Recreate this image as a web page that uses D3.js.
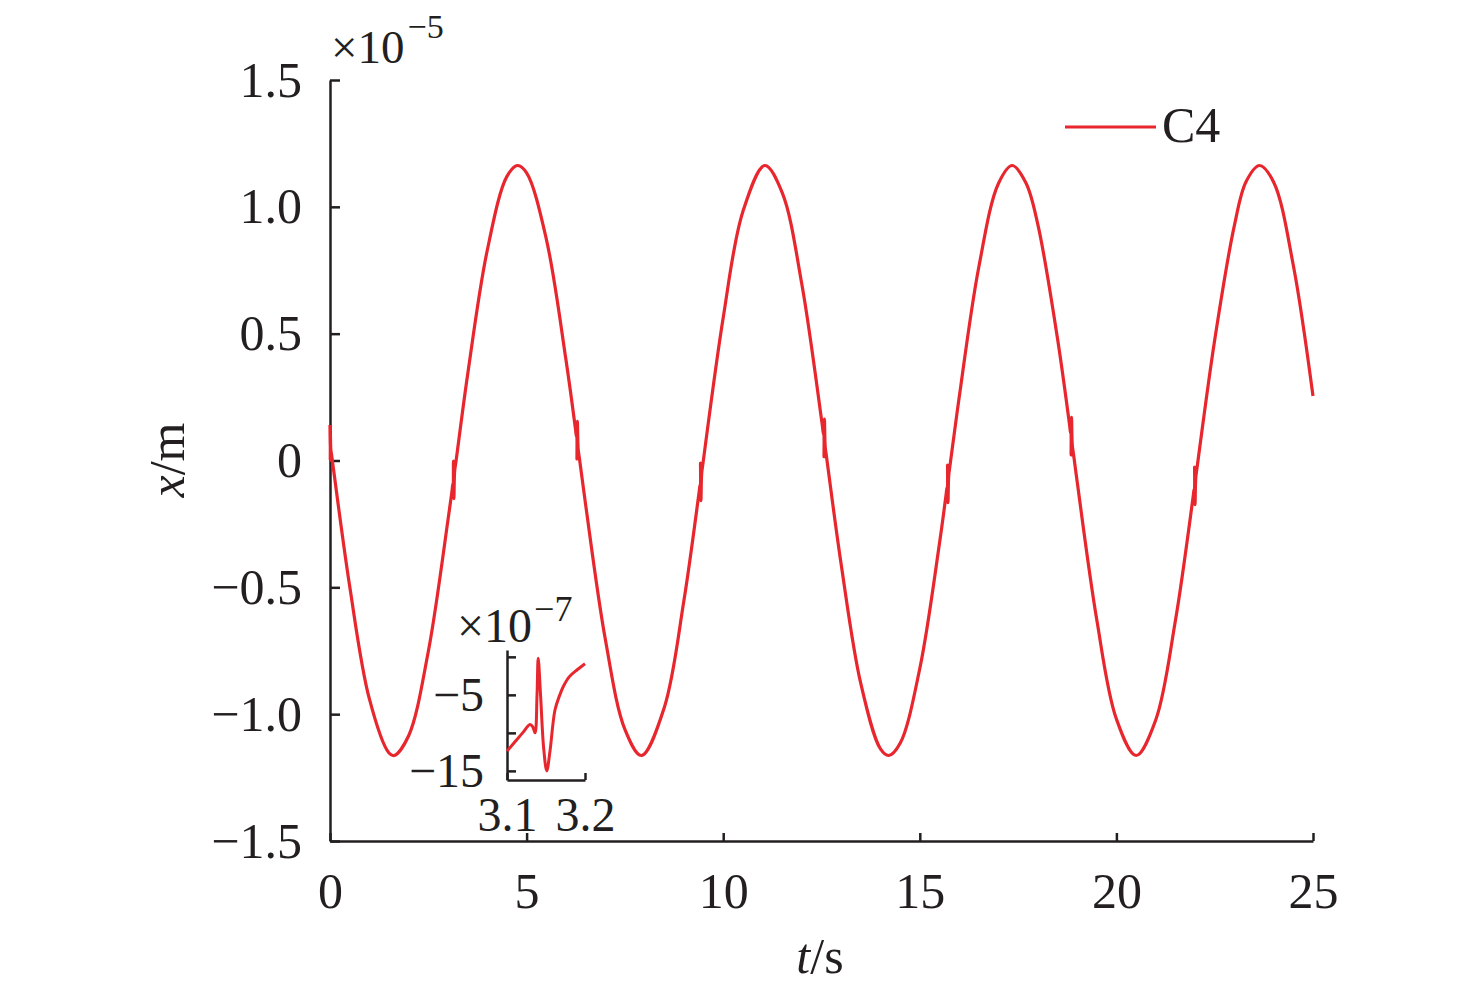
<!DOCTYPE html>
<html><head><meta charset="utf-8">
<script src="https://cdn.jsdelivr.net/npm/d3@7/dist/d3.min.js"></script>
<style>body{margin:0;background:#fff}svg{display:block}text{font-family:"Liberation Serif","Times New Roman",serif;fill:#231f20}</style>
</head><body><svg id="c" width="1476" height="992"></svg>
<script>
// ---- data (x in units of 1e-5 m) ----
const timeS = [0,0.006,0.012,0.02,0.04,0.5,1.0,1.5,1.63,2.0,2.5,3.0,
  3.10,3.128,3.135,3.140,3.151,3.162,3.172,3.20,3.5,4.0,4.5,4.77,5.0,5.5,6.0,
  6.241,6.269,6.276,6.281,6.292,6.303,6.313,6.341,6.5,7.0,7.5,7.92,8.5,9.0,
  9.384,9.412,9.419,9.423,9.434,9.445,9.455,9.484,10.0,10.5,11.06,11.5,12.0,12.5,
  12.524,12.552,12.559,12.564,12.575,12.586,12.596,12.624,13.0,13.5,14.0,14.21,14.5,15.0,15.5,
  15.666,15.694,15.701,15.706,15.717,15.728,15.738,15.766,16.0,16.5,17.0,17.35,17.7,18.0,18.5,
  18.808,18.836,18.843,18.848,18.859,18.870,18.880,18.908,19.0,19.5,20.0,20.5,21.0,21.5,
  21.949,21.977,21.984,21.989,22.000,22.011,22.021,22.049,22.5,23.0,23.3,23.64,24.0,24.5,25.0];
const dispC4 = [0.14,0.0,0.10,0.045,0.023,-0.495,-0.939,-1.153,-1.163,-1.085,-0.753,-0.235,
  -0.124,-0.089,-0.099,-0.002,-0.150,-0.070,-0.039,-0.009,0.338,0.829,1.120,1.163,1.134,0.874,0.398,
  0.127,0.094,0.096,0.006,0.154,0.075,0.043,0.011,-0.173,-0.703,-1.060,-1.163,-0.975,-0.553,
  -0.129,-0.097,-0.099,-0.010,-0.158,-0.078,-0.047,-0.013,0.563,0.981,1.163,1.056,0.695,0.162,
  0.135,0.1025,0.104,0.015,0.163,0.083,0.051,0.019,-0.409,-0.880,-1.137,-1.163,-1.115,-0.820,-0.327,
  -0.138,-0.106,-0.108,-0.018,-0.166,-0.087,-0.055,-0.022,0.247,0.762,1.092,1.163,1.094,0.932,0.483,
  0.142,0.109,0.111,0.022,0.170,0.090,0.058,0.026,-0.081,-0.627,-1.019,-1.163,-1.023,-0.632,
  -0.146,-0.114,-0.116,-0.026,-0.174,-0.095,-0.063,-0.031,0.475,0.926,1.100,1.163,1.097,0.769,0.254];
// inset (x in units of 1e-7 m)
const insetT = [3.100,3.110,3.120,3.1295,3.133,3.136,3.1385,3.140,3.143,3.147,3.151,3.155,3.1615,3.167,3.1722,3.180,3.190,3.200];
const insetX = [-12.4,-11.2,-10.0,-8.9,-9.2,-10.0,-5.0,-0.2,-5.0,-12.0,-15.0,-12.5,-7.0,-5.2,-3.9,-2.6,-1.7,-0.9];
const xTicks = [0,5,10,15,20,25];
const xTickLabels = ["0","5","10","15","20","25"];
const yTicks = [-1.5,-1.0,-0.5,0,0.5,1.0,1.5];
const yTickLabels = ["\u22121.5","\u22121.0","\u22120.5","0","0.5","1.0","1.5"];
const insetXTicks = [3.1,3.2];
const insetXTickLabels = ["3.1","3.2"];
const insetYTicks = [0,-5,-10,-15];
const insetYTickLabels = ["","\u22125","","\u221215"];
const seriesName = "C4";

const RED = "#e8262d", INK = "#231f20";
const svg = d3.select("#c");
const x = d3.scaleLinear().domain([0,25]).range([330,1313]);
const y = d3.scaleLinear().domain([-1.5,1.5]).range([841,80]);

function styleAxis(g, fs){
  g.select(".domain").attr("stroke",INK).attr("stroke-width",2.5);
  g.selectAll(".tick line").attr("stroke",INK).attr("stroke-width",2.5);
  g.selectAll(".tick text").attr("font-size",fs).attr("fill",INK)
   .style("font-family",'"Liberation Serif","Times New Roman",serif');
}
const gx = svg.append("g").attr("transform","translate(0,841)")
  .call(d3.axisBottom(x).tickValues(xTicks).tickFormat((d,i)=>xTickLabels[i]).tickSizeInner(-8).tickSizeOuter(0).tickPadding(31));
styleAxis(gx,50);
const gy = svg.append("g").attr("transform","translate(330,0)")
  .call(d3.axisLeft(y).tickValues(yTicks).tickFormat((d,i)=>yTickLabels[i]).tickSizeInner(-10).tickSizeOuter(0).tickPadding(28));
styleAxis(gy,50);

// exponent label
const ex = svg.append("text").attr("x",331).attr("y",63).attr("font-size",47);
ex.append("tspan").text("\u00d710");
ex.append("tspan").attr("dy",-25).attr("dx",3).attr("font-size",34).text("\u22125");

// axis titles
const yt = svg.append("text").attr("transform","translate(184,460) rotate(-90)").attr("text-anchor","middle").attr("font-size",50);
yt.append("tspan").attr("font-style","italic").text("x");
yt.append("tspan").text("/m");
const xt = svg.append("text").attr("x",820).attr("y",973).attr("text-anchor","middle").attr("font-size",50);
xt.append("tspan").attr("font-style","italic").text("t");
xt.append("tspan").text("/s");

// main curve
const pts = timeS.map((t,i)=>[t,dispC4[i]]);
svg.append("path").datum(pts).attr("fill","none").attr("stroke",RED).attr("stroke-width",3.2)
  .attr("stroke-linejoin","round")
  .attr("d",d3.line().x(d=>x(d[0])).y(d=>y(d[1])).curve(d3.curveCatmullRom.alpha(0.5)));

// legend
svg.append("line").attr("x1",1065).attr("x2",1156).attr("y1",127).attr("y2",127).attr("stroke",RED).attr("stroke-width",3);
svg.append("text").attr("x",1162).attr("y",142).attr("font-size",50).text(seriesName);

// inset
const ix = d3.scaleLinear().domain([3.1,3.2]).range([507,585]);
const iy = d3.scaleLinear().domain([-16.2,0.9]).range([780,650]);
const igx = svg.append("g").attr("transform","translate(0,780)")
  .call(d3.axisBottom(ix).tickValues(insetXTicks).tickFormat((d,i)=>insetXTickLabels[i]).tickSizeInner(-7).tickSizeOuter(0).tickPadding(17));
styleAxis(igx,48);
const igy = svg.append("g").attr("transform","translate(507,0)")
  .call(d3.axisLeft(iy).tickValues(insetYTicks).tickFormat((d,i)=>insetYTickLabels[i]).tickSizeInner(-9).tickSizeOuter(0).tickPadding(23));
styleAxis(igy,48);
const iex = svg.append("text").attr("x",457).attr("y",642).attr("font-size",48);
iex.append("tspan").text("\u00d710");
iex.append("tspan").attr("dy",-21).attr("dx",2).attr("font-size",36).text("\u22127");
const ipts = insetT.map((t,i)=>[t,insetX[i]]);
svg.append("path").datum(ipts).attr("fill","none").attr("stroke",RED).attr("stroke-width",3)
  .attr("stroke-linejoin","round")
  .attr("d",d3.line().x(d=>ix(d[0])).y(d=>iy(d[1])).curve(d3.curveCatmullRom.alpha(0.5)));
</script></body></html>
